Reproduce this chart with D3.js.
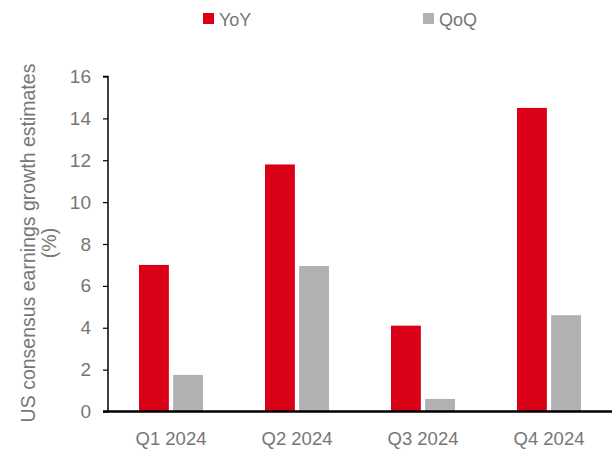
<!DOCTYPE HTML>
<html>
<head>
    <meta http-equiv="content-type" content="text/html; charset=UTF-8">
    <title>US earnings growth</title>
    <script src="https://cdn.jsdelivr.net/npm/d3@7"></script>
    <style>
        body { margin: 0; background: #fff; }
        text { font-family: "Liberation Sans", Arial, sans-serif; fill: #767676; }
    </style>
</head>
<body>
<script>
    var quarters = ['Q1 2024', 'Q2 2024', 'Q3 2024', 'Q4 2024'];
    var seriesNames = ['YoY', 'QoQ'];
    var yoy = [7.0, 11.8, 4.1, 14.5];
    var qoq = [1.75, 6.95, 0.6, 4.6];
    var yTicks = [0, 2, 4, 6, 8, 10, 12, 14, 16];
    var colors = ['#d90017', '#b1b1b1'];

    var W = 616, H = 449;
    var svg = d3.select('body').append('svg').attr('width', W).attr('height', H);

    var x = d3.scaleBand().domain(quarters).range([108, 612]);
    var xs = d3.scaleBand().domain(seriesNames).range([0, 64]).paddingInner(0.125);
    var y = d3.scaleLinear().domain([0, 16]).range([411.5, 76.5]);

    var rows = quarters.map(function (q, i) {
        return { q: q, vals: [yoy[i], qoq[i]] };
    });

    var groups = svg.selectAll('g.grp').data(rows).enter().append('g')
        .attr('transform', function (d) { return 'translate(' + (x(d.q) + x.bandwidth() / 2 - 32) + ',0)'; });
    groups.selectAll('rect').data(function (d) { return d.vals; }).enter().append('rect')
        .attr('x', function (d, i) { return xs(seriesNames[i]); })
        .attr('width', xs.bandwidth())
        .attr('y', function (d) { return y(d); })
        .attr('height', function (d) { return y(0) - y(d); })
        .style('fill', function (d, i) { return colors[i]; });

    // y axis
    var yAxis = svg.append('g').attr('transform', 'translate(108,0)')
        .call(d3.axisLeft(y).tickValues(yTicks).tickSize(5).tickPadding(12));
    yAxis.select('.domain').attr('stroke', '#000').attr('stroke-width', 1.5).attr('d', 'M-5,76.5H0V411.5');
    yAxis.selectAll('.tick line').attr('stroke', '#000').attr('stroke-width', 1.2);
    yAxis.selectAll('.tick text').style('font-size', '19px').style('fill', '#767676')
        .style('font-family', '"Liberation Sans", Arial, sans-serif');

    // x axis
    var xAxis = svg.append('g').attr('transform', 'translate(0,411.5)')
        .call(d3.axisBottom(x).tickSize(0).tickPadding(20));
    xAxis.select('.domain').attr('stroke', '#000').attr('stroke-width', 2.5).attr('d', 'M103,0H612');
    xAxis.selectAll('.tick text').style('font-size', '18.5px').style('fill', '#767676')
        .style('font-family', '"Liberation Sans", Arial, sans-serif');

    // y label
    var yl = svg.append('text').attr('transform', 'translate(0,243) rotate(-90)')
        .attr('text-anchor', 'middle').style('font-size', '19.5px');
    yl.append('tspan').attr('x', 0).attr('y', 35).text('US consensus earnings growth estimates');
    yl.append('tspan').attr('x', 0).attr('y', 56).text('(%)');

    // legend
    var legX = [203, 423];
    var leg = svg.selectAll('g.leg').data(seriesNames).enter().append('g')
        .attr('transform', function (d, i) { return 'translate(' + legX[i] + ',13)'; });
    leg.append('rect').attr('width', 11).attr('height', 11)
        .style('fill', function (d, i) { return colors[i]; });
    leg.append('text').attr('x', 16).attr('y', 13).style('font-size', '18px').text(function (d) { return d; });
</script>
</body>
</html>
